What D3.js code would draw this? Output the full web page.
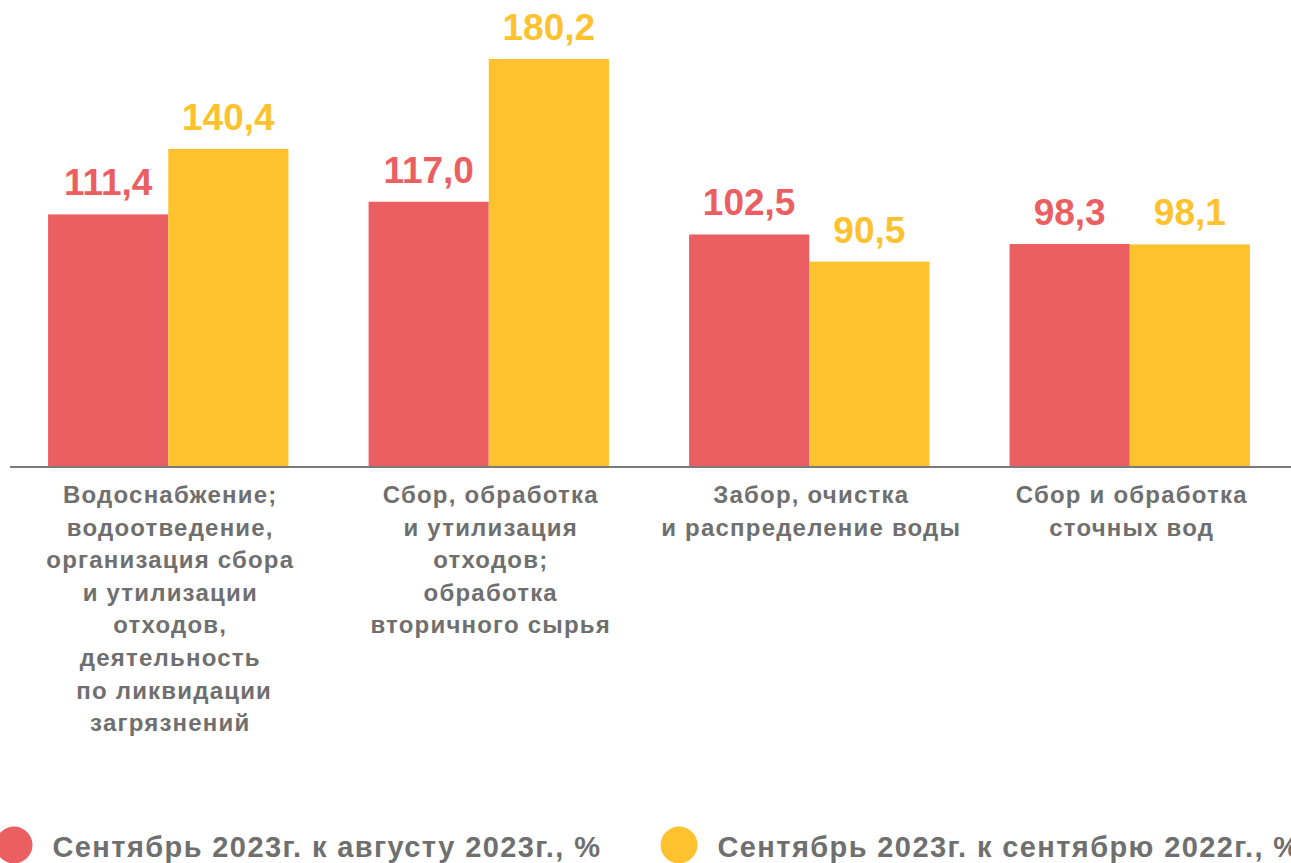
<!DOCTYPE html>
<html>
<head>
<meta charset="utf-8">
<script src="https://cdn.jsdelivr.net/npm/d3@7"></script>
<style>
  body { margin: 0; background: #fff; overflow: hidden; }
  svg { display: block; font-family: Arial, "Liberation Sans", sans-serif; }
</style>
</head>
<body>
<svg id="chart"></svg>
<script>
// categories (each label split into lines as in the source)
const categories = [
    ["Водоснабжение;", "водоотведение,", "организация сбора", "и утилизации", "отходов,", "деятельность", " по ликвидации", "загрязнений"],
    ["Сбор, обработка", "и утилизация", "отходов;", "обработка", "вторичного сырья"],
    ["Забор, очистка", "и распределение воды"],
    ["Сбор и обработка", "сточных вод"]
];
const seriesNames = ["Сентябрь 2023г. к августу 2023г., %", "Сентябрь 2023г. к сентябрю 2022г., %"];
const augValues = [111.4, 117.0, 102.5, 98.3];
const yearValues = [140.4, 180.2, 90.5, 98.1];
const colors = ["#EB5F62", "#FEC22E"];

const width = 1291, height = 863;
const svg = d3.select("#chart").attr("width", width).attr("height", height);

const baseY = 466;

// Scales
const x0 = d3.scaleBand()
    .domain(d3.range(categories.length))
    .range([8, 1290])
    .paddingInner(0.25)
    .paddingOuter(0.125);

const x1 = d3.scaleBand()
    .domain([0, 1])
    .range([0, x0.bandwidth()]);

const y = d3.scaleLinear()
    .domain([0, 180.2])
    .range([baseY, 59]);

const rows = categories.map((c, i) => ({ i, vals: [augValues[i], yearValues[i]] }));

const groups = svg.selectAll("g.grp")
    .data(rows)
    .enter()
    .append("g")
    .attr("class", "grp")
    .attr("transform", d => `translate(${x0(d.i)},0)`);

// Bars
groups.selectAll("rect")
    .data(d => d.vals.map((v, s) => ({ v, s })))
    .enter()
    .append("rect")
    .attr("x", d => x1(d.s))
    .attr("y", d => y(d.v))
    .attr("width", x1.bandwidth())
    .attr("height", d => baseY - y(d.v))
    .attr("fill", d => colors[d.s]);

// Value labels
const fmt = v => d3.format(".1f")(v).replace(".", ",");
groups.selectAll("text.val")
    .data(d => d.vals.map((v, s) => ({ v, s })))
    .enter()
    .append("text")
    .attr("class", "val")
    .attr("x", d => x1(d.s) + x1.bandwidth() / 2)
    .attr("y", d => y(d.v) - 19)
    .attr("text-anchor", "middle")
    .attr("font-size", 37)
    .attr("font-weight", "bold")
    .attr("fill", d => colors[d.s])
    .text(d => fmt(d.v));

// Axis line
svg.append("line")
    .attr("x1", 10).attr("x2", width)
    .attr("y1", baseY + 1).attr("y2", baseY + 1)
    .attr("stroke", "#7a7a7a")
    .attr("stroke-width", 2);

// Category labels
groups.append("text")
    .attr("text-anchor", "middle")
    .attr("font-size", 24)
    .attr("font-weight", "bold")
    .attr("letter-spacing", 1.2)
    .attr("fill", "#6f6f6f")
    .selectAll("tspan")
    .data(d => categories[d.i])
    .enter()
    .append("tspan")
    .attr("x", x0.bandwidth() / 2 + 2)
    .attr("y", (d, k) => 503 + k * 32.6)
    .attr("xml:space", "preserve")
    .text(d => d);

// Legend
const legendX = [14, 679];
const legend = svg.selectAll("g.leg")
    .data(seriesNames)
    .enter()
    .append("g")
    .attr("class", "leg")
    .attr("transform", (d, i) => `translate(${legendX[i]},845)`);

legend.append("circle")
    .attr("r", 18.5)
    .attr("fill", (d, i) => colors[i]);

legend.append("text")
    .attr("x", 38.5)
    .attr("y", 12)
    .attr("font-size", 29)
    .attr("font-weight", "bold")
    .attr("letter-spacing", 1.4)
    .attr("fill", "#6f6f6f")
    .text(d => d);
</script>
</body>
</html>
